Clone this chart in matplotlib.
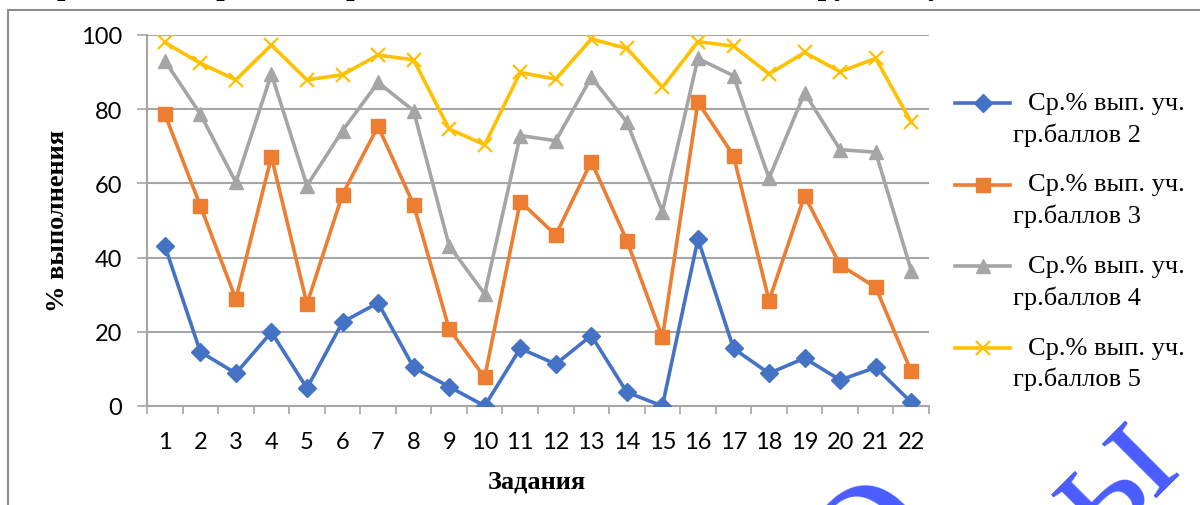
import matplotlib.pyplot as plt
from matplotlib.lines import Line2D
from matplotlib.patches import Rectangle

# Data
tasks = list(range(1, 23))
grp2 = [43.2, 14.6, 8.8, 19.9, 4.8, 22.6, 27.8, 10.4, 5.2, 0.0, 15.5,
        11.3, 19.0, 3.7, 0.0, 45.0, 15.5, 8.8, 12.9, 7.0, 10.4, 1.0]
grp3 = [78.7, 54.0, 28.8, 67.2, 27.5, 57.0, 75.4, 54.3, 20.8, 7.7, 55.1,
        46.1, 65.9, 44.6, 18.5, 81.9, 67.5, 28.4, 56.7, 38.0, 32.0, 9.3]
grp4 = [93.1, 78.7, 60.3, 89.5, 59.4, 74.2, 87.2, 79.6, 43.2, 30.2, 72.9,
        71.5, 88.6, 76.5, 52.4, 93.7, 89.0, 61.4, 84.4, 69.1, 68.4, 36.5]
grp5 = [98.0, 92.4, 87.9, 97.3, 87.9, 89.3, 94.6, 93.3, 74.7, 70.4, 89.9,
        88.1, 98.9, 96.4, 85.9, 98.2, 97.0, 89.5, 95.3, 90.1, 93.7, 76.5]
labels = ['Ср.% вып. уч.\nгр.баллов 2', 'Ср.% вып. уч.\nгр.баллов 3',
          'Ср.% вып. уч.\nгр.баллов 4', 'Ср.% вып. уч.\nгр.баллов 5']
yticks = [0, 20, 40, 60, 80, 100]

series = [
    (grp2, '#4472C4', 'D', 9),
    (grp3, '#ED7D31', 's', 10),
    (grp4, '#A5A5A5', '^', 10),
    (grp5, '#FFC000', 'x', 10),
]

fig = plt.figure(figsize=(12, 5.06), dpi=100)

# chart frame (runs off the right and bottom edges)
fig.add_artist(Rectangle((8 / 1200, -0.2), 1.2, 1.2 - 11 / 506,
                         transform=fig.transFigure, fill=False,
                         edgecolor='#8c8c8c', lw=1.5))

# title mostly cut off by the top edge, only descenders show
fig.text(0.45, 1.012, 'Распределение среднего процента выполнения заданий по группам участников',
         ha='center', va='baseline', fontsize=22, fontweight='bold',
         family='Liberation Serif')

# watermark letters
fig.text(0.73, -0.085, 'О', color='#4a5cff', fontsize=120, family='Liberation Serif',
         rotation=45, ha='center', va='center')
fig.text(0.928, 0.05, 'ы', color='#4a5cff', fontsize=120, family='Liberation Serif',
         rotation=45, ha='center', va='center')

ax = fig.add_axes([147 / 1200, 1 - 407 / 506, (929 - 147) / 1200, (407 - 36) / 506])

for vals, col, mk, ms in series:
    ax.plot(tasks, vals, color=col, lw=2.6, marker=mk, markersize=ms,
            markeredgewidth=1.6 if mk == 'x' else 1, zorder=3)

ax.set_xlim(0.5, 22.5)
ax.set_ylim(0, 100)
ax.set_yticks(yticks)
ax.set_xticks(tasks)
ax.set_xticks([t - 0.5 for t in tasks] + [22.5], minor=True)
ax.grid(axis='y', color='#a6a6a6', lw=1.5, zorder=0)
for s in ['top', 'right']:
    ax.spines[s].set_visible(False)
for s in ['left', 'bottom']:
    ax.spines[s].set_color('#a6a6a6')
    ax.spines[s].set_linewidth(1.5)
ax.tick_params(axis='x', which='major', length=0, pad=18, labelsize=17)
ax.tick_params(axis='x', which='minor', length=6, width=1.2, color='#a6a6a6')
ax.tick_params(axis='y', length=7, width=1.2, color='#a6a6a6', pad=11, labelsize=17)
for lab in ax.get_xticklabels() + ax.get_yticklabels():
    lab.set_family('Lato')

fig.text(58 / 1200, 1 - 221 / 506, '% выполнения', rotation=90, ha='center', va='center',
         fontsize=19, fontweight='bold', family='Liberation Serif')
fig.text(537 / 1200, 1 - 482 / 506, 'Задания', ha='center', va='center',
         fontsize=19, fontweight='bold', family='Liberation Serif')

# legend drawn by hand so the marker sits on the first text line
for i, (vals, col, mk, ms) in enumerate(series):
    y1 = 1 - (104 + i * 81.5) / 506
    fig.add_artist(Line2D([955 / 1200, 1010 / 1200], [y1, y1], transform=fig.transFigure,
                          color=col, lw=2.6))
    fig.add_artist(Line2D([982.5 / 1200], [y1], transform=fig.transFigure, color=col,
                          marker=mk, markersize=ms, markeredgewidth=1.6 if mk == 'x' else 1))
    first, second = labels[i].split('\n')
    fig.text(1028 / 1200, y1, first, ha='left', va='center', fontsize=19,
             family='Liberation Serif')
    fig.text(1013 / 1200, y1 - 31 / 506, second, ha='left', va='center', fontsize=19,
             family='Liberation Serif')

fig.savefig('out.png', dpi=100)
